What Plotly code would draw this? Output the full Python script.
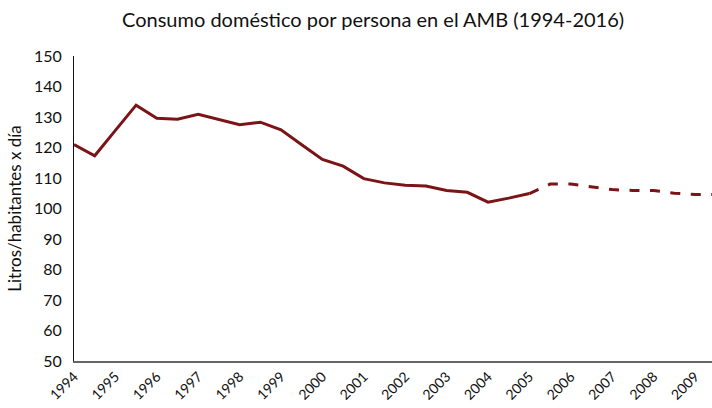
import plotly.graph_objects as go

# Half-year positions (solid = observed, dashed = later segment)
x_solid = [1994.0, 1994.5, 1995.0, 1995.5, 1996.0, 1996.5, 1997.0, 1997.5,
           1998.0, 1998.5, 1999.0, 1999.5, 2000.0, 2000.5, 2001.0, 2001.5,
           2002.0, 2002.5, 2003.0, 2003.5, 2004.0, 2004.5, 2005.0]
y_solid = [121.0, 117.3, 125.6, 133.9, 129.6, 129.3, 130.9, 129.2,
           127.5, 128.3, 125.8, 120.9, 116.1, 113.9, 109.8, 108.4,
           107.6, 107.4, 105.9, 105.3, 102.1, 103.4, 104.9]

x_dash = [2005.0, 2005.5, 2006.0, 2006.5, 2007.0, 2007.5, 2008.0, 2008.5, 2009.0, 2009.5]
y_dash = [104.9, 108.0, 108.0, 107.1, 106.2, 105.9, 105.9, 105.0, 104.6, 104.6]

tick_years = [1994, 1995, 1996, 1997, 1998, 1999, 2000, 2001,
              2002, 2003, 2004, 2005, 2006, 2007, 2008, 2009]
tick_labels = [str(t) for t in tick_years]
y_ticks = [50, 60, 70, 80, 90, 100, 110, 120, 130, 140, 150]

color = "#7b1416"
font_family = "Lato, Open Sans, sans-serif"

fig = go.Figure()
fig.add_trace(go.Scatter(x=x_solid, y=y_solid, mode="lines",
                         line=dict(color=color, width=3), showlegend=False,
                         hoverinfo="skip"))
fig.add_trace(go.Scatter(x=x_dash, y=y_dash, mode="lines",
                         line=dict(color=color, width=3, dash="10px,10.5px"),
                         showlegend=False, hoverinfo="skip"))

fig.update_layout(
    width=712, height=408,
    margin=dict(l=74, r=0, t=56, b=47, autoexpand=False),
    paper_bgcolor="white", plot_bgcolor="white",
    font=dict(family=font_family, color="#111111"),
    title=dict(text="Consumo doméstico por persona en el AMB (1994-2016)",
               x=0.524, xanchor="center", y=0.95, yanchor="middle",
               font=dict(size=20, family=font_family, color="#111111")),
    xaxis=dict(range=[1994, 2009.41], tickvals=tick_years, ticktext=tick_labels,
               tickangle=-45, showgrid=False, zeroline=False, automargin=False,
               showline=True, linecolor="#666666", linewidth=2,
               ticks="", tickfont=dict(size=14)),
    yaxis=dict(range=[50, 150], tickvals=y_ticks, showgrid=False, zeroline=False,
               automargin=False,
               showline=True, linecolor="#111111", linewidth=1,
               ticks="", ticklabelstandoff=8, tickfont=dict(size=16),
               title=dict(text="Litros/habitantes x día", font=dict(size=17),
                          standoff=8)),
)

fig.write_html("out.html", config={"displayModeBar": False},
               post_script="document.body.style.margin='0';document.body.style.overflow='hidden';")
